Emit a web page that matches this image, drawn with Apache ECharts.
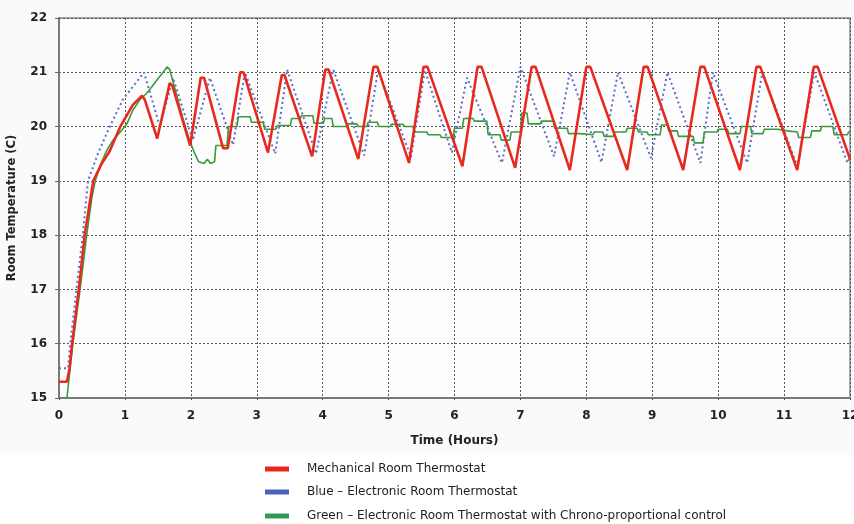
<!DOCTYPE html>
<html>
<head>
<meta charset="utf-8">
<script src="https://cdn.jsdelivr.net/npm/echarts@6/dist/echarts.min.js"></script>
<style>
html,body{margin:0;padding:0;background:#fff;}
#chart{width:854px;height:524px;}
</style>
</head>
<body>
<div id="chart"></div>
<script>
// ---- Data (hours, °C) ----
const seriesNames = [
  "Mechanical Room Thermostat",
  "Blue \u2013 Electronic Room Thermostat",
  "Green \u2013 Electronic Room Thermostat with Chrono-proportional control"
];
const xTicks = [0,1,2,3,4,5,6,7,8,9,10,11,12];
const yTicks = [15,16,17,18,19,20,21,22];

const mechanical = [
  [0,15.3],[0.12,15.3],[0.16,15.55],[0.2,16.0],[0.3,17.0],[0.39,18.0],[0.46,18.55],[0.52,19.0],
  [0.64,19.3],[0.77,19.55],[0.93,20.0],[1.12,20.4],[1.26,20.57],[1.3,20.5],[1.49,19.78],
  [1.68,20.8],[1.72,20.75],[1.99,19.65],[2.15,20.9],[2.2,20.9],[2.49,19.6],[2.56,19.6],
  [2.75,21.0],[2.8,21.0],[3.17,19.52],[3.38,20.95],[3.42,20.95],[3.84,19.45],[4.04,21.05],
  [4.09,21.05],[4.54,19.4],[4.77,21.1],[4.83,21.1],[5.31,19.33],[5.53,21.1],[5.59,21.1],
  [6.12,19.27],[6.35,21.1],[6.41,21.1],[6.92,19.24],[7.17,21.1],[7.23,21.1],[7.75,19.2],
  [8.0,21.1],[8.06,21.1],[8.62,19.2],[8.87,21.1],[8.93,21.1],[9.47,19.2],[9.73,21.1],
  [9.79,21.1],[10.33,19.2],[10.58,21.1],[10.64,21.1],[11.2,19.2],[11.45,21.1],[11.51,21.1],
  [12,19.4]
];

const electronic = [
  [0,15.55],[0.14,15.55],[0.17,16.0],[0.36,18.0],[0.44,19.0],[0.59,19.5],[0.77,20.0],
  [0.97,20.5],[1.29,21.0],[1.53,20.0],[1.73,20.9],[2.03,19.75],[2.29,20.9],[2.64,19.66],
  [2.82,21.0],[3.28,19.5],[3.46,21.05],[3.9,19.5],[4.16,21.05],[4.63,19.47],[4.84,21.04],
  [5.34,19.44],[5.55,21.04],[5.96,19.52],[6.19,20.9],[6.72,19.33],[7.0,21.1],[7.51,19.45],
  [7.75,21.0],[8.23,19.34],[8.48,21.0],[8.98,19.42],[9.23,21.0],[9.73,19.33],[9.92,21.0],
  [10.44,19.33],[10.67,21.0],[11.2,19.27],[11.46,21.0],[11.96,19.33],[12,19.45]
];

const chrono = [
  [0.12,15.0],[0.21,16.0],[0.32,17.0],[0.42,18.0],[0.5,18.7],[0.55,19.0],[0.63,19.3],
  [0.72,19.55],[0.82,19.75],[0.93,19.9],[1.03,20.05],[1.12,20.3],[1.23,20.5],[1.32,20.6],
  [1.4,20.72],[1.5,20.88],[1.58,21.0],[1.64,21.1],[1.68,21.05],[1.78,20.6],[1.88,20.15],
  [1.98,19.75],[2.06,19.5],[2.12,19.35],[2.2,19.32],[2.25,19.4],[2.3,19.32],[2.36,19.35],
  [2.38,19.65],[2.55,19.65],[2.57,20.0],[2.7,20.0],[2.72,20.18],[2.9,20.18],[2.92,20.08],
  [3.1,20.08],[3.12,19.95],[3.29,19.95],[3.31,20.02],[3.51,20.02],[3.53,20.15],[3.66,20.15],
  [3.68,20.2],[3.85,20.2],[3.87,20.06],[4.01,20.06],[4.03,20.15],[4.14,20.15],[4.16,20.0],
  [4.37,20.0],[4.39,20.05],[4.52,20.05],[4.54,20.0],[4.67,20.0],[4.69,20.08],[4.83,20.08],
  [4.85,20.0],[5.02,20.0],[5.04,20.04],[5.22,20.04],[5.24,20.0],[5.37,20.0],[5.39,19.9],
  [5.58,19.9],[5.6,19.85],[5.78,19.85],[5.8,19.8],[5.98,19.8],[6.0,19.97],[6.12,19.97],
  [6.14,20.15],[6.28,20.15],[6.3,20.1],[6.49,20.1],[6.51,19.85],[6.69,19.85],[6.71,19.75],
  [6.84,19.75],[6.86,19.9],[7.0,19.9],[7.02,20.25],[7.1,20.25],[7.12,20.05],[7.3,20.05],
  [7.32,20.1],[7.5,20.1],[7.52,19.97],[7.71,19.97],[7.73,19.87],[7.91,19.87],[7.93,19.85],
  [8.1,19.85],[8.12,19.9],[8.25,19.9],[8.27,19.82],[8.41,19.82],[8.43,19.9],[8.6,19.9],
  [8.62,19.97],[8.77,19.97],[8.79,19.9],[8.92,19.9],[8.94,19.85],[9.12,19.85],[9.14,20.03],
  [9.23,20.03],[9.25,19.92],[9.38,19.92],[9.4,19.82],[9.62,19.82],[9.64,19.7],[9.77,19.7],
  [9.79,19.9],[9.98,19.9],[10.0,19.95],[10.14,19.95],[10.16,19.87],[10.33,19.87],[10.35,20.0],
  [10.49,20.0],[10.51,19.87],[10.68,19.87],[10.7,19.95],[10.9,19.95],[10.92,19.92],[11.05,19.92],
  [11.07,19.9],[11.2,19.9],[11.22,19.8],[11.4,19.8],[11.42,19.92],[11.55,19.92],[11.57,20.0],
  [11.74,20.0],[11.76,19.85],[11.96,19.85],[11.98,19.9],[12,19.9]
];

const colors = ['#e8261e', '#4a62b8', '#2f9a55'];
const chart = echarts.init(document.getElementById('chart'), null, {renderer:'canvas'});
const font = "'DejaVu Sans', sans-serif";

function legendFor(i, top) {
  return {
    orient: 'vertical', left: 265, top: top, padding: 0,
    itemWidth: 24, itemHeight: 5, icon: 'rect',
    textStyle: {fontFamily: font, fontSize: 12, color: '#222', padding: [0,0,0,13]},
    data: [{name: seriesNames[i], itemStyle: {color: colors[i], borderWidth: 0}}]
  };
}

const option = {
  backgroundColor: '#ffffff',
  animation: false,
  textStyle: {fontFamily: font},
  graphic: [{
    type: 'rect', z: -10, silent: true,
    shape: {x: 0, y: 0, width: 854, height: 455},
    style: {fill: '#fafafa'}
  }],
  grid: {
    left: 59, right: 4, top: 18, bottom: 126,
    outerBoundsMode: 'none', containLabel: false,
    show: true, borderColor: '#8c8c8c', borderWidth: 1.5, backgroundColor: '#fdfdfd'
  },
  legend: [legendFor(0, 463), legendFor(1, 486), legendFor(2, 510)],
  xAxis: {
    type: 'value', min: 0, max: 12, interval: 1,
    name: 'Time (Hours)', nameLocation: 'middle', nameGap: 37,
    nameTextStyle: {fontFamily: font, fontSize: 12, fontWeight: 'bold', color: '#222'},
    axisLine: {show: true, onZero: false, lineStyle: {color: '#7a7a7a', width: 2}},
    axisTick: {show: true, length: 4, lineStyle: {color: '#555', type: [2,2]}},
    axisLabel: {fontFamily: font, fontSize: 12, fontWeight: 'bold', color: '#222', margin: 12,
      showMinLabel: true, showMaxLabel: true, hideOverlap: false,
      formatter: v => xTicks.includes(v) ? String(v) : ''},
    splitLine: {show: true, lineStyle: {color: '#555', width: 1, type: [2,2]}}
  },
  yAxis: {
    type: 'value', min: 15, max: 22, interval: 1,
    name: 'Room Temperature (C)', nameLocation: 'middle', nameGap: 41,
    nameTextStyle: {fontFamily: font, fontSize: 11.5, fontWeight: 'bold', color: '#222'},
    axisLine: {show: true, lineStyle: {color: '#7a7a7a', width: 2}},
    axisTick: {show: true, length: 4, lineStyle: {color: '#666'}},
    axisLabel: {fontFamily: font, fontSize: 12, fontWeight: 'bold', color: '#222', margin: 12,
      formatter: v => yTicks.includes(v) ? String(v) : ''},
    splitLine: {show: true, lineStyle: {color: '#555', width: 1, type: [2,2]}}
  },
  series: [
    {
      name: seriesNames[1], type: 'line', data: electronic, showSymbol: false, symbol: 'none',
      z: 2, color: colors[1],
      lineStyle: {color: '#5a6ec4', width: 2, type: [2,3]}
    },
    {
      name: seriesNames[2], type: 'line', data: chrono, showSymbol: false, symbol: 'none',
      z: 3, color: colors[2],
      lineStyle: {color: '#3a9a3c', width: 1.6}
    },
    {
      name: seriesNames[0], type: 'line', data: mechanical, showSymbol: false, symbol: 'none',
      z: 4, color: colors[0],
      lineStyle: {color: '#e8291f', width: 2.6}
    }
  ]
};
chart.setOption(option);
</script>
</body>
</html>
